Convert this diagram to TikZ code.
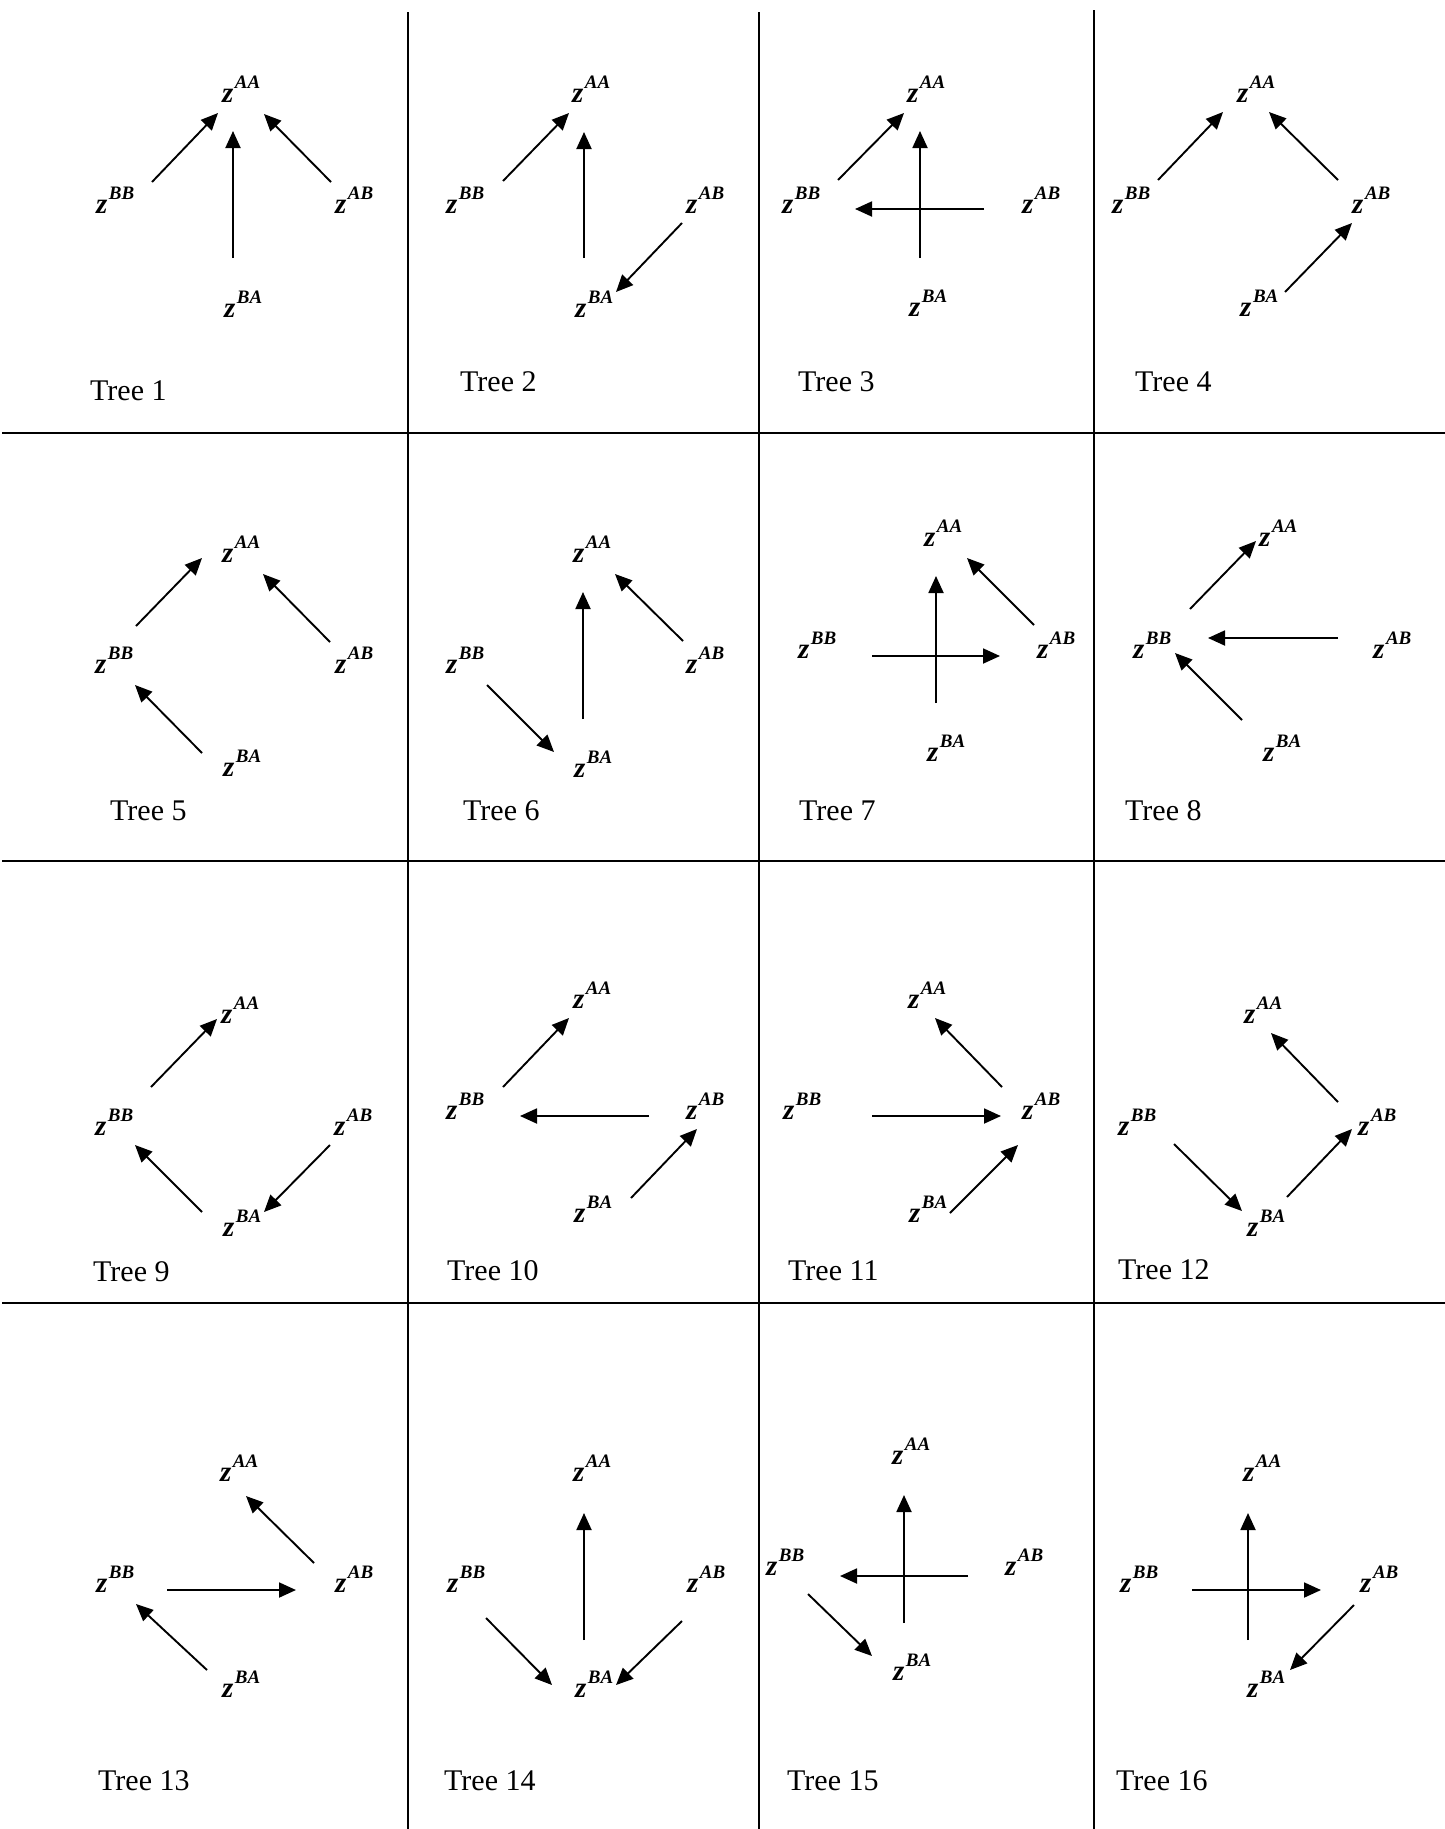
\documentclass[tikz,border=0pt]{standalone}
\usepackage{fontspec}
\setmainfont{Liberation Serif}
\usetikzlibrary{calc,arrows.meta}
\newcommand\zsup[1]{\textbf{\textit{z}}\kern1.5pt\raisebox{14pt}{\fontsize{19}{19}\selectfont\textbf{\textit{#1}}}}
\newcommand\zfour[6]{%
  \node[lab] (aa#1) at (#2) {\zsup{AA}};
  \node[lab] (bb#1) at (#3) {\zsup{BB}};
  \node[lab] (ab#1) at (#4) {\zsup{AB}};
  \node[lab] (ba#1) at (#5) {\zsup{BA}};
  \node[ttl] (t#1) at (#6) {Tree #1};}
\newcommand\zarr[4]{\draw[arr] ($(#1.base west)+(#2)$) -- ($(#3.base west)+(#4)$);}
\begin{document}
\begin{tikzpicture}[x=1pt,y=-1pt,
  lab/.style={inner sep=0pt, anchor=base west, font=\fontsize{29}{29}\selectfont},
  ttl/.style={inner sep=0pt, anchor=base west, font=\fontsize{30}{30}\selectfont},
  arr/.style={line width=1.9pt, -{Triangle[length=17pt,width=15pt]}},
  gridline/.style={line width=2.1pt}]
\useasboundingbox (0,0) rectangle (1445,1829);
% grid
\draw[gridline] (2,433) -- (1445,433);
\draw[gridline] (2,861) -- (1445,861);
\draw[gridline] (2,1303) -- (1445,1303);
\draw[gridline] (408,12) -- (408,1829);
\draw[gridline] (759,12) -- (759,1829);
\draw[gridline] (1094,10) -- (1094,1829);
% Tree 1
\zfour{1}{222,102}{96,213}{335,213}{224,317}{90,400}
\zarr{bb1}{56,-31}{aa1}{-4,11}
\zarr{ab1}{-4,-31}{aa1}{42,12}
\zarr{ba1}{9,-59}{aa1}{11,29}
% Tree 2
\zfour{2}{572,102}{446,213}{686,213}{575,317}{460,391}
\zarr{bb2}{57,-32}{aa2}{-3,11}
\zarr{ba2}{9,-59}{aa2}{12,30}
\zarr{ab2}{-4,10}{ba2}{41,-25}
% Tree 3
\zfour{3}{907,102}{782,213}{1022,213}{909,316}{798,391}
\zarr{bb3}{56,-33}{aa3}{-3,11}
\zarr{ba3}{11,-58}{aa3}{13,29}
\zarr{ab3}{-38,-4}{bb3}{73,-4}
% Tree 4
\zfour{4}{1237,102}{1112,213}{1352,213}{1240,316}{1135,391}
\zarr{bb4}{46,-33}{aa4}{-14,10}
\zarr{ab4}{-14,-33}{aa4}{32,10}
\zarr{ba4}{45,-24}{ab4}{0,10}
% Tree 5
\zfour{5}{222,562}{95,673}{335,673}{223,776}{110,820}
\zarr{bb5}{41,-47}{aa5}{-20,-4}
\zarr{ab5}{-5,-31}{aa5}{41,12}
\zarr{ba5}{-21,-23}{bb5}{40,12}
% Tree 6
\zfour{6}{573,562}{446,673}{686,673}{574,777}{463,820}
\zarr{ba6}{9,-58}{aa6}{10,30}
\zarr{ab6}{-3,-32}{aa6}{42,12}
\zarr{bb6}{41,12}{ba6}{-20,-25}
% Tree 7
\zfour{7}{924,546}{798,658}{1037,658}{927,761}{799,820}
\zarr{ba7}{9,-58}{aa7}{12,30}
\zarr{bb7}{74,-2}{ab7}{-37,-2}
\zarr{ab7}{-3,-33}{aa7}{43,12}
% Tree 8
\zfour{8}{1259,546}{1133,658}{1373,658}{1263,761}{1125,820}
\zarr{bb8}{57,-49}{aa8}{-3,-5}
\zarr{ab8}{-35,-20}{bb8}{75,-20}
\zarr{ba8}{-21,-41}{bb8}{42,-5}
% Tree 9
\zfour{9}{221,1023}{95,1135}{334,1135}{223,1236}{93,1281}
\zarr{bb9}{56,-48}{aa9}{-4,-4}
\zarr{ba9}{-21,-24}{bb9}{40,10}
\zarr{ab9}{-4,10}{ba9}{41,-24}
% Tree 10
\zfour{10}{573,1008}{446,1119}{686,1119}{574,1222}{447,1280}
\zarr{bb10}{57,-32}{aa10}{-4,10}
\zarr{ab10}{-37,-3}{bb10}{74,-3}
\zarr{ba10}{57,-24}{ab10}{11,10}
% Tree 11
\zfour{11}{908,1008}{783,1119}{1022,1119}{909,1222}{788,1280}
\zarr{ab11}{-20,-32}{aa11}{27,10}
\zarr{bb11}{89,-3}{ab11}{-21,-3}
\zarr{ba11}{41,-9}{ab11}{-4,26}
% Tree 12
\zfour{12}{1244,1023}{1118,1135}{1358,1135}{1247,1236}{1118,1279}
\zarr{ab12}{-20,-33}{aa12}{27,10}
\zarr{bb12}{56,9}{ba12}{-5,-25}
\zarr{ba12}{40,-39}{ab12}{-6,-6}
% Tree 13
\zfour{13}{220,1481}{96,1592}{335,1592}{222,1697}{98,1790}
\zarr{ab13}{-21,-29}{aa13}{26,15}
\zarr{bb13}{71,-2}{ab13}{-39,-2}
\zarr{ba13}{-15,-27}{bb13}{40,12}
% Tree 14
\zfour{14}{573,1481}{447,1592}{687,1592}{575,1697}{444,1790}
\zarr{ba14}{9,-57}{aa14}{11,32}
\zarr{bb14}{39,26}{ba14}{-23,-12}
\zarr{ab14}{-5,29}{ba14}{41,-12}
% Tree 15
\zfour{15}{892,1464}{766,1575}{1005,1575}{893,1680}{787,1790}
\zarr{ba15}{11,-57}{aa15}{12,31}
\zarr{ab15}{-37,1}{bb15}{74,1}
\zarr{bb15}{42,19}{ba15}{-21,-24}
% Tree 16
\zfour{16}{1243,1481}{1120,1592}{1360,1592}{1247,1697}{1116,1790}
\zarr{ba16}{1,-57}{aa16}{5,32}
\zarr{bb16}{72,-2}{ab16}{-39,-2}
\zarr{ab16}{-6,13}{ba16}{43,-27}
\end{tikzpicture}
\end{document}
